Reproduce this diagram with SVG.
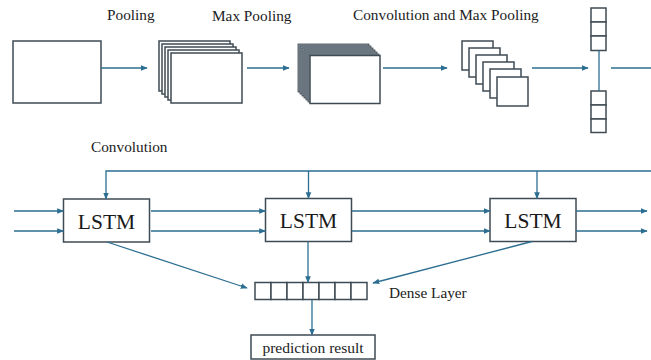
<svg xmlns="http://www.w3.org/2000/svg" width="651" height="360" viewBox="0 0 651 360">
<style>
.box{fill:#fff;stroke:#3f4b54;stroke-width:1.5}
.dk{fill:#8a97a1;stroke:#3a454e;stroke-width:0.8}
.ln{fill:none;stroke:#2c6e91;stroke-width:1.3}
.t{font-family:"Liberation Serif",serif;fill:#222;font-size:15.3px}
.lt{font-family:"Liberation Serif",serif;fill:#1a1a1a;font-size:21.5px;text-anchor:middle}
</style>
<defs>
<marker id="ah" viewBox="0 0 10 10" refX="9" refY="5" markerWidth="7" markerHeight="7" markerUnits="userSpaceOnUse" orient="auto">
<path d="M0,1 L10,5 L0,9 z" fill="#2c6e91"/>
</marker>
</defs>
<rect width="651" height="360" fill="#fff"/>
<g id="labels">
<text class="t" x="107" y="20">Pooling</text>
<text class="t" x="212" y="21">Max Pooling</text>
<text class="t" x="353" y="20">Convolution and Max Pooling</text>
<text class="t" x="91" y="152">Convolution</text>
<text class="t" x="389" y="298">Dense Layer</text>
</g>
<g id="input">
<rect class="box" x="13" y="41" width="88" height="62"/>
</g>
<g id="pooling">
<rect class="box" x="159" y="41" width="71" height="50"/>
<rect class="box" x="162" y="44" width="71" height="50"/>
<rect class="box" x="165" y="47" width="71" height="50"/>
<rect class="box" x="168" y="50" width="71" height="50"/>
<rect class="box" x="171" y="53" width="71" height="50"/>
</g>
<g id="maxpooling">
<rect class="dk" x="298" y="44" width="71" height="48"/>
<rect class="dk" x="300" y="46" width="71" height="48"/>
<rect class="dk" x="302" y="48" width="71" height="48"/>
<rect class="dk" x="304" y="50" width="71" height="48"/>
<rect class="dk" x="306" y="52" width="71" height="48"/>
<rect class="dk" x="308" y="54" width="71" height="48"/>
<rect class="box" x="310" y="55.5" width="70" height="48"/>
</g>
<g id="convmax">
<rect class="box" x="462" y="41" width="31" height="29"/>
<rect class="box" x="469" y="48" width="31" height="29"/>
<rect class="box" x="476" y="55" width="31" height="29"/>
<rect class="box" x="483" y="62" width="31" height="29"/>
<rect class="box" x="490" y="69" width="31" height="29"/>
<rect class="box" x="497" y="77" width="31" height="29"/>
</g>
<g id="vectors">
<rect class="box" x="591" y="8" width="15" height="14"/>
<rect class="box" x="591" y="22" width="15" height="14"/>
<rect class="box" x="591" y="36" width="15" height="14.5"/>
<rect class="box" x="591" y="91" width="15" height="14"/>
<rect class="box" x="591" y="105" width="15" height="14"/>
<rect class="box" x="591" y="119" width="15" height="13.5"/>
</g>
<g id="lstm1">
<rect class="box" x="63.5" y="199" width="86" height="43"/>
<text class="lt" x="106.5" y="228.5">LSTM</text>
</g>
<g id="lstm2">
<rect class="box" x="265.5" y="198.5" width="86" height="43"/>
<text class="lt" x="308.5" y="228">LSTM</text>
</g>
<g id="lstm3">
<rect class="box" x="490" y="198.5" width="86" height="43"/>
<text class="lt" x="533" y="228">LSTM</text>
</g>
<g id="dense">
<rect class="box" x="255" y="282.5" width="16" height="17"/>
<rect class="box" x="271" y="282.5" width="16" height="17"/>
<rect class="box" x="287" y="282.5" width="16" height="17"/>
<rect class="box" x="303" y="282.5" width="16" height="17"/>
<rect class="box" x="319" y="282.5" width="16" height="17"/>
<rect class="box" x="335" y="282.5" width="16" height="17"/>
<rect class="box" x="351" y="282.5" width="16" height="17"/>
</g>
<g id="prediction">
<rect class="box" x="251" y="335" width="124" height="24"/>
<text class="t" x="313" y="352.5" text-anchor="middle" style="font-size:15.5px">prediction result</text>
</g>
<g id="connectors">
<line class="ln" x1="101" y1="68" x2="147" y2="68" marker-end="url(#ah)"/>
<line class="ln" x1="247" y1="68" x2="289" y2="68" marker-end="url(#ah)"/>
<line class="ln" x1="383" y1="68" x2="447" y2="68" marker-end="url(#ah)"/>
<line class="ln" x1="532" y1="68" x2="588" y2="68" marker-end="url(#ah)"/>
<line class="ln" x1="599" y1="50.5" x2="599" y2="91"/>
<line class="ln" x1="611" y1="68" x2="651" y2="68"/>
<polyline class="ln" points="651,171 106,171 106,199" marker-end="url(#ah)"/>
<line class="ln" x1="308.5" y1="171" x2="308.5" y2="198.5" marker-end="url(#ah)"/>
<line class="ln" x1="537" y1="171" x2="537" y2="198.5" marker-end="url(#ah)"/>
<line class="ln" x1="14" y1="211" x2="63.5" y2="211" marker-end="url(#ah)"/>
<line class="ln" x1="14" y1="231" x2="63.5" y2="231" marker-end="url(#ah)"/>
<line class="ln" x1="151" y1="211" x2="265.5" y2="211" marker-end="url(#ah)"/>
<line class="ln" x1="151" y1="231" x2="265.5" y2="231" marker-end="url(#ah)"/>
<line class="ln" x1="352" y1="211" x2="490" y2="211" marker-end="url(#ah)"/>
<line class="ln" x1="352" y1="231" x2="490" y2="231" marker-end="url(#ah)"/>
<line class="ln" x1="576" y1="211" x2="647" y2="211" marker-end="url(#ah)"/>
<line class="ln" x1="576" y1="231" x2="647" y2="231" marker-end="url(#ah)"/>
<line class="ln" x1="107" y1="242" x2="247" y2="288" marker-end="url(#ah)"/>
<line class="ln" x1="308" y1="241.5" x2="308" y2="282.5" marker-end="url(#ah)"/>
<line class="ln" x1="532" y1="241.5" x2="373" y2="283" marker-end="url(#ah)"/>
<line class="ln" x1="312" y1="299.5" x2="312" y2="335" marker-end="url(#ah)"/>
</g>
</svg>
